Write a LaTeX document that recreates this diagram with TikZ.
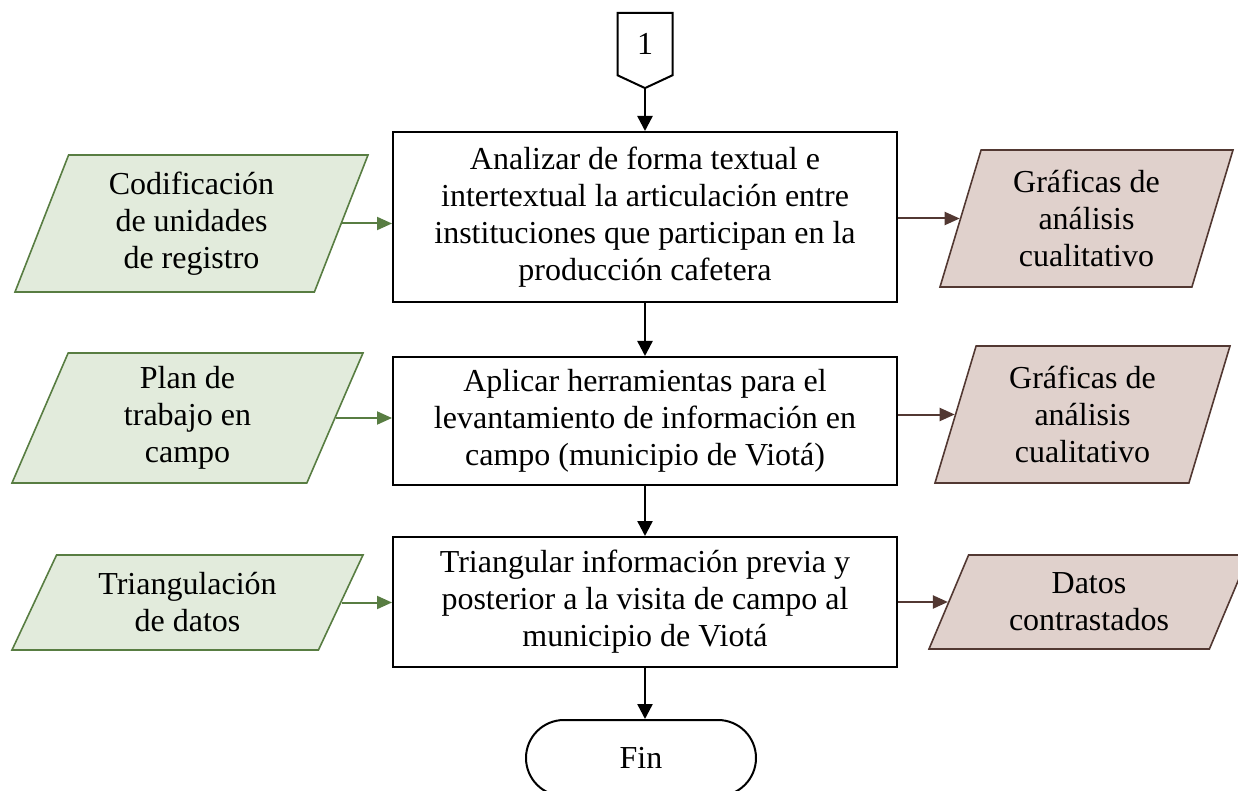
\documentclass[tikz,border=0pt]{standalone}
\usepackage{fontspec}
\setmainfont{Liberation Serif}
\usetikzlibrary{shapes.geometric,shapes.symbols,arrows.meta}
\definecolor{verdeborde}{RGB}{88,125,66}
\definecolor{verdefondo}{RGB}{226,235,220}
\definecolor{cafeborde}{RGB}{82,56,50}
\definecolor{cafefondo}{RGB}{224,209,204}

\begin{document}
\begin{tikzpicture}[x=0.5pt,y=-0.5pt,
    every node/.style={font=\fontsize{16}{18.5}\selectfont, align=center, inner sep=0pt},
    proceso/.style={draw, line width=1pt, minimum width=252pt},
    entrada/.style={trapezium, trapezium stretches body, draw=verdeborde, fill=verdefondo, line width=0.8pt},
    salida/.style={trapezium, trapezium stretches body, draw=cafeborde, fill=cafefondo, line width=0.8pt},
    flecha/.style={-{Triangle[length=7.5pt,width=7.5pt]}, line width=1.2pt},
    flechaverde/.style={-{Triangle[length=7.5pt,width=6.5pt]}, line width=1pt, verdeborde},
    flechacafe/.style={-{Triangle[length=7.5pt,width=6.5pt]}, line width=1pt, cafeborde}]
    \useasboundingbox (0,0) rectangle (1238,791);

    % columna central
    \node[signal, signal to=south, signal pointer angle=130, draw, line width=1pt,
          minimum width=27.5pt, minimum height=33pt, anchor=north] (conector) at (645,12) {1};
    \node[proceso, minimum height=85pt] (analizar) at (645,217)
        {Analizar de forma textual e\\intertextual la articulación entre\\instituciones que participan en la\\producción cafetera};
    \node[proceso, minimum height=64pt] (aplicar) at (645,421)
        {Aplicar herramientas para el\\levantamiento de información en\\campo (municipio de Viotá)};
    \node[proceso, minimum height=65pt] (triangular) at (645,602)
        {Triangular información previa y\\posterior a la visita de campo al\\municipio de Viotá};
    \node[draw, line width=1pt, rounded corners=19pt, minimum width=115pt, minimum height=38pt] (fin) at (641,758) {Fin};

    % entradas
    \node[entrada, trapezium left angle=62.6, trapezium right angle=117.4,
          minimum width=176.5pt, minimum height=68.5pt] (codificacion) at (191.5,223.5)
        {Codificación\\de unidades\\de registro};
    \node[entrada, trapezium left angle=61.4, trapezium right angle=118.6,
          minimum width=175.5pt, minimum height=65pt] (plan) at (187.5,418)
        {Plan de\\trabajo en\\campo};
    \node[entrada, trapezium left angle=53.2, trapezium right angle=126.8,
          minimum width=175.5pt, minimum height=47.5pt] (triangulacion) at (187.5,602.5)
        {Triangulación\\de datos};

    % salidas
    \node[salida, trapezium left angle=67, trapezium right angle=113,
          minimum width=146.5pt, minimum height=68.5pt] (graficas1) at (1086.5,218.5)
        {Gráficas de\\análisis\\cualitativo};
    \node[salida, trapezium left angle=67, trapezium right angle=113,
          minimum width=147.5pt, minimum height=68.5pt] (graficas2) at (1082.5,414.5)
        {Gráficas de\\análisis\\cualitativo};
    \node[salida, trapezium left angle=55.8, trapezium right angle=124.2,
          minimum width=160pt, minimum height=47pt] (datos) at (1089,602)
        {Datos\\contrastados};

    \draw[flecha] (conector.south) -- (analizar.north);
    \draw[flecha] (analizar.south) -- (aplicar.north);
    \draw[flecha] (aplicar.south) -- (triangular.north);
    \draw[flecha] (triangular.south) -- (triangular.south |- fin.north);

    \draw[flechaverde] (codificacion.east) -- (codificacion.east -| analizar.west);
    \draw[flechaverde] (plan.east) -- (plan.east -| aplicar.west);
    \draw[flechaverde] (triangulacion.east) -- (triangulacion.east -| triangular.west);

    \draw[flechacafe] (graficas1.west -| analizar.east) -- (graficas1.west);
    \draw[flechacafe] (graficas2.west -| aplicar.east) -- (graficas2.west);
    \draw[flechacafe] (datos.west -| triangular.east) -- (datos.west);
\end{tikzpicture}
\end{document}
